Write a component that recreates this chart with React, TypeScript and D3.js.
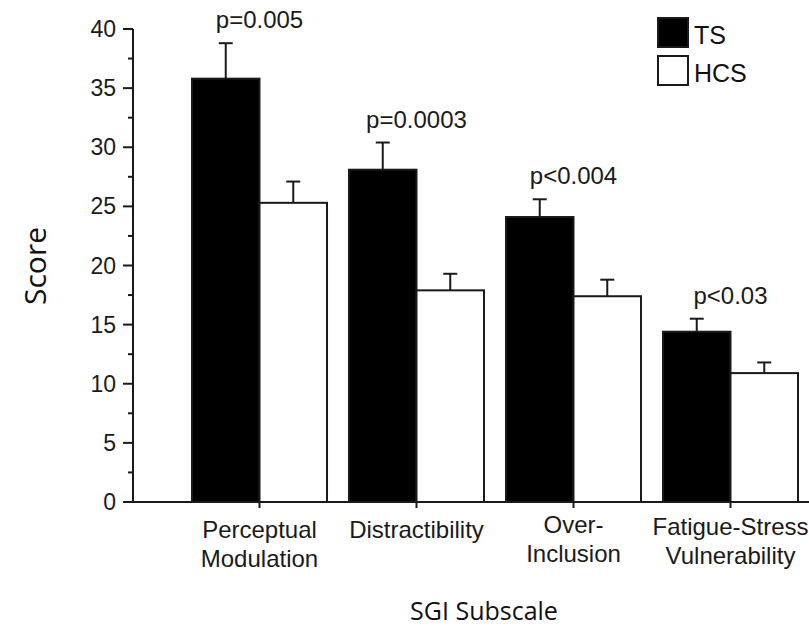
import React from 'react';
import * as d3 from 'd3';

// SGI subscale scores, TS vs HCS
const categories = ['Perceptual Modulation', 'Distractibility', 'Over-Inclusion', 'Fatigue-Stress Vulnerability'];
const categoryLines = [['Perceptual', 'Modulation'], ['Distractibility'], ['Over-', 'Inclusion'], ['Fatigue-Stress', 'Vulnerability']];
const tsMeans = [35.8, 28.1, 24.1, 14.4];
const tsErrors = [3.0, 2.3, 1.5, 1.1];
const hcsMeans = [25.3, 17.9, 17.4, 10.9];
const hcsErrors = [1.8, 1.4, 1.4, 0.9];
const pLabels = ['p=0.005', 'p=0.0003', 'p<0.004', 'p<0.03'];
const groups = ['TS', 'HCS'];
const yTicks = [0, 5, 10, 15, 20, 25, 30, 35, 40];
const yMinorTicks = [2.5, 7.5, 12.5, 17.5, 22.5, 27.5, 32.5, 37.5];

const W = 809;
const H = 628;
const axisX = 133;
const sans = '"Liberation Sans", Arial, Helvetica, sans-serif';
const titleFont = '"Open Sans", "Noto Sans", sans-serif';
const ink = '#1a1a1a';

export default function App() {
  const y = d3.scaleLinear().domain([0, 40]).range([502, 29]);
  const x0 = d3.scaleBand<string>().domain(categories).range([181, 809]).paddingInner(0.14).paddingOuter(0.07);
  const x1 = d3.scaleBand<string>().domain(groups).range([0, x0.bandwidth()]);
  const bw = x1.bandwidth();
  const cap = 7;

  const rows = categories.map((c, i) => ({
    c,
    lines: categoryLines[i],
    p: pLabels[i],
    bars: [
      { g: 'TS', v: tsMeans[i], e: tsErrors[i], fill: '#000' },
      { g: 'HCS', v: hcsMeans[i], e: hcsErrors[i], fill: '#fff' },
    ],
  }));

  return (
    <svg width={W} height={H} style={{ display: 'block', position: 'absolute', left: 0, top: 0, background: '#fff' }}>
      {/* bars + error bars */}
      {rows.map((r) => (
        <g key={r.c} transform={`translate(${x0(r.c)},0)`}>
          {r.bars.map((b) => {
            const cx = (x1(b.g) as number) + bw / 2;
            return (
              <g key={b.g}>
                <line x1={cx} x2={cx} y1={y(b.v)} y2={y(b.v + b.e)} stroke={ink} strokeWidth={2} />
                <line x1={cx - cap} x2={cx + cap} y1={y(b.v + b.e)} y2={y(b.v + b.e)} stroke={ink} strokeWidth={2} />
                <rect x={x1(b.g)} y={y(b.v)} width={bw} height={y(0) - y(b.v)} fill={b.fill} stroke={ink} strokeWidth={2} />
              </g>
            );
          })}
          <text
            x={x0.bandwidth() / 2}
            y={y(r.bars[0].v + r.bars[0].e) - 15}
            textAnchor="middle"
            fontFamily={sans}
            fontSize={24}
            fill={ink}
          >
            {r.p}
          </text>
        </g>
      ))}

      {/* y axis */}
      <line x1={axisX} x2={axisX} y1={y(40)} y2={y(0)} stroke={ink} strokeWidth={2} />
      {yTicks.map((t) => (
        <g key={t}>
          <line x1={axisX - 10} x2={axisX} y1={y(t)} y2={y(t)} stroke={ink} strokeWidth={2} />
          <text x={axisX - 17} y={y(t)} dy="0.35em" textAnchor="end" fontFamily={sans} fontSize={23} fill={ink}>
            {t}
          </text>
        </g>
      ))}
      {yMinorTicks.map((t) => (
        <line key={t} x1={axisX - 5} x2={axisX} y1={y(t)} y2={y(t)} stroke={ink} strokeWidth={2} />
      ))}

      {/* x axis */}
      <line x1={axisX} x2={W} y1={y(0)} y2={y(0)} stroke={ink} strokeWidth={2} />
      {rows.map((r, i) => {
        const cx = (x0(r.c) as number) + x0.bandwidth() / 2;
        const top = i === 2 ? 533 : i === 3 ? 535 : 538;
        return (
          <g key={r.c}>
            <line x1={cx} x2={cx} y1={y(0)} y2={y(0) + 6} stroke={ink} strokeWidth={2} />
            {r.lines.map((l, k) => (
              <text key={l} x={cx} y={top + k * 29} textAnchor="middle" fontFamily={sans} fontSize={24} fill={ink}>
                {l}
              </text>
            ))}
          </g>
        );
      })}

      {/* axis titles */}
      <text transform="translate(46,266) rotate(-90)" textAnchor="middle" fontFamily={titleFont} fontSize={30} fill="#111">
        Score
      </text>
      <text x={484} y={620} textAnchor="middle" fontFamily={titleFont} fontSize={25} fill="#111">
        SGI Subscale
      </text>

      {/* legend */}
      {groups.map((g, i) => (
        <g key={g} transform={`translate(658,${18 + i * 38})`}>
          <rect x={0} y={0} width={30} height={29} fill={i === 0 ? '#000' : '#fff'} stroke={ink} strokeWidth={2} />
          <text x={36} y={26} fontFamily={sans} fontSize={25} fill="#111">
            {g}
          </text>
        </g>
      ))}
    </svg>
  );
}
